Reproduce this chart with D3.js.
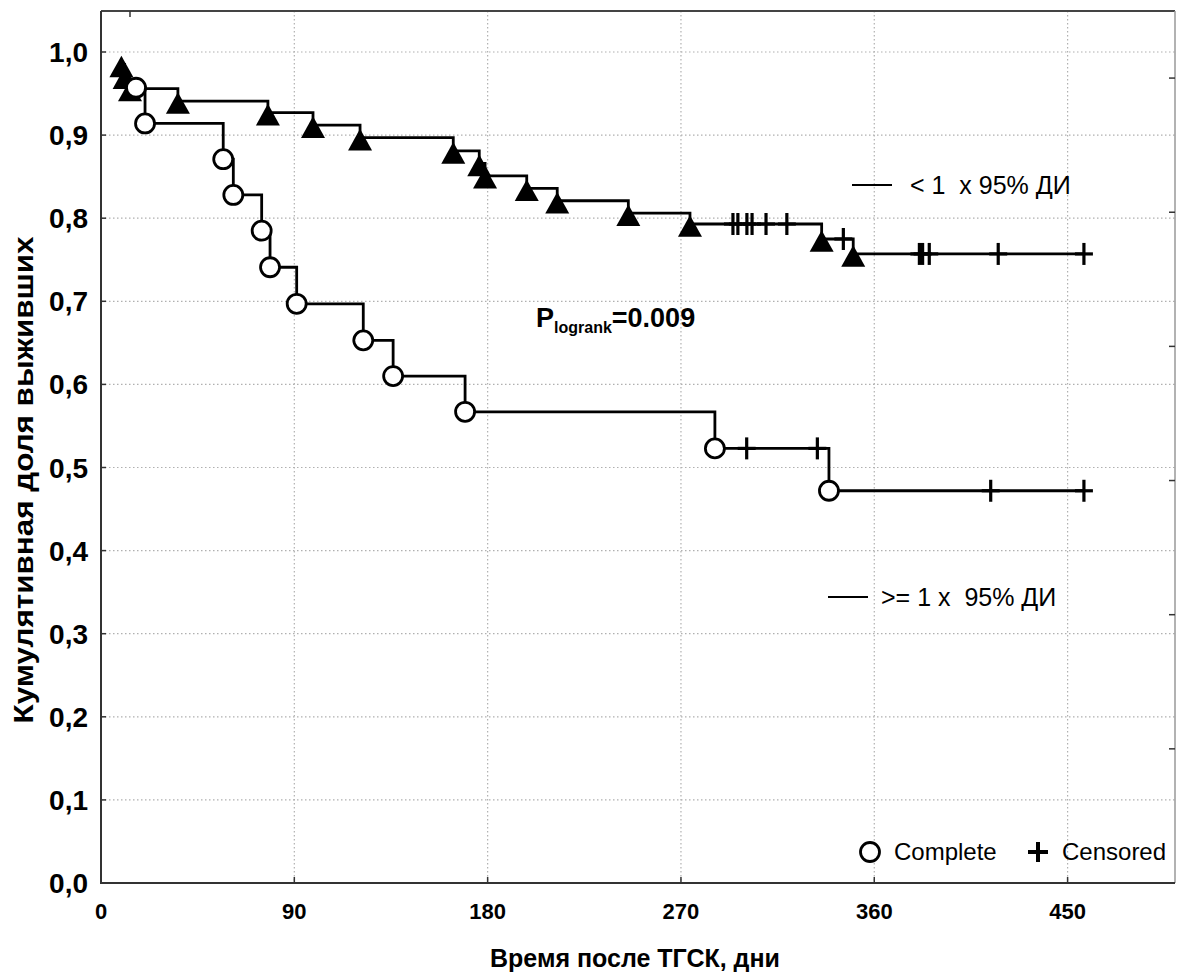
<!DOCTYPE html>
<html lang="ru">
<head>
<meta charset="UTF-8">
<title>Кумулятивная доля выживших</title>
<script src="https://d3js.org/d3.v7.min.js"></script>
<style>
body { margin: 0; background: #fff; }
text { font-family: "Liberation Sans", Arial, sans-serif; fill: #000; }
</style>
</head>
<body>
<div id="chart"></div>
<script>
// group "< 1 x 95% ДИ" (filled triangles at events)
const lowTimes = [9.5, 11, 13.5, 35.8, 77.7, 98.7, 120.6, 164, 176.1, 178.8, 198.2, 212.4, 245.5, 274.2, 335.5, 350.2];
const lowSurv = [0.985, 0.971, 0.956, 0.941, 0.927, 0.912, 0.897, 0.881, 0.866, 0.851, 0.836, 0.821, 0.806, 0.793, 0.775, 0.757];
const lowCensTimes = [294.2, 296.5, 300.7, 303.1, 309.6, 319.3, 345.6, 381, 382.5, 385.6, 417.7, 457.6];
const lowCensSurv = [0.793, 0.793, 0.793, 0.793, 0.793, 0.793, 0.775, 0.757, 0.757, 0.757, 0.757, 0.757];

// group ">= 1 x 95% ДИ" (open circles at events)
const highTimes = [16.3, 20.5, 56.9, 61.6, 74.8, 78.7, 91.1, 122.1, 136, 169.5, 285.8, 338.9];
const highSurv = [0.957, 0.914, 0.871, 0.828, 0.785, 0.741, 0.697, 0.653, 0.610, 0.567, 0.523, 0.472];
const highCensTimes = [300.6, 333.5, 414.2, 457.6];
const highCensSurv = [0.523, 0.523, 0.472, 0.472];

const xTicks = [0, 90, 180, 270, 360, 450];
const yTicks = [0, 0.1, 0.2, 0.3, 0.4, 0.5, 0.6, 0.7, 0.8, 0.9, 1.0];
const rightTicks = [1, 2, 3, 4, 5, 6];
const topTicks = [13.5];

const width = 1177, height = 978;
const plotL = 101, plotR = 1175, plotT = 11, plotB = 883;

const svg = d3.select("#chart").append("svg")
    .attr("width", width)
    .attr("height", height);

const x = d3.scaleLinear().domain([0, 500]).range([plotL, plotR]);
const y = d3.scaleLinear().domain([0, 1]).range([plotB, 52]);
const yRight = d3.scaleLinear().domain([0, 6.5]).range([plotB, plotT]);

// dotted grid
const grid = svg.append("g")
    .attr("stroke", "#b0b0b0")
    .attr("stroke-width", 1.2)
    .attr("stroke-dasharray", "1.5,2.5");
grid.selectAll("line.h")
    .data(yTicks.filter(d => d > 0))
    .join("line")
    .attr("class", "h")
    .attr("x1", plotL).attr("x2", plotR)
    .attr("y1", d => y(d)).attr("y2", d => y(d));
grid.selectAll("line.v")
    .data(xTicks.filter(d => d > 0))
    .join("line")
    .attr("class", "v")
    .attr("x1", d => x(d)).attr("x2", d => x(d))
    .attr("y1", plotT).attr("y2", plotB);

// frame
svg.append("line").attr("x1", plotL).attr("x2", plotR).attr("y1", plotT).attr("y2", plotT)
    .attr("stroke", "#444").attr("stroke-width", 2);
svg.append("line").attr("x1", plotR).attr("x2", plotR).attr("y1", plotT).attr("y2", plotB)
    .attr("stroke", "#999").attr("stroke-width", 1.5);
svg.append("line").attr("x1", plotL).attr("x2", plotL).attr("y1", plotT).attr("y2", plotB)
    .attr("stroke", "#333").attr("stroke-width", 2);
svg.append("line").attr("x1", plotL - 1).attr("x2", plotR).attr("y1", plotB).attr("y2", plotB)
    .attr("stroke", "#333").attr("stroke-width", 2);

// inner ticks
svg.append("g").attr("stroke", "#333").attr("stroke-width", 1.5)
    .selectAll("line")
    .data(xTicks.filter(d => d > 0))
    .join("line")
    .attr("x1", d => x(d)).attr("x2", d => x(d))
    .attr("y1", plotB).attr("y2", plotB - 6);
svg.append("g").attr("stroke", "#333").attr("stroke-width", 1.5)
    .selectAll("line")
    .data(topTicks)
    .join("line")
    .attr("x1", d => x(d)).attr("x2", d => x(d))
    .attr("y1", plotT).attr("y2", plotT + 6);
svg.append("g").attr("stroke", "#333").attr("stroke-width", 1.5)
    .selectAll("line")
    .data(yTicks.filter(d => d > 0))
    .join("line")
    .attr("x1", plotL).attr("x2", plotL + 5)
    .attr("y1", d => y(d)).attr("y2", d => y(d));
svg.append("g").attr("stroke", "#333").attr("stroke-width", 1.5)
    .selectAll("line")
    .data(rightTicks)
    .join("line")
    .attr("x1", plotR).attr("x2", plotR - 6)
    .attr("y1", d => yRight(d)).attr("y2", d => yRight(d));

// tick labels
svg.append("g")
    .selectAll("text")
    .data(yTicks)
    .join("text")
    .attr("x", 88)
    .attr("y", d => y(d) + 10)
    .attr("text-anchor", "end")
    .attr("font-size", 28)
    .attr("font-weight", "bold")
    .text(d => d3.format(".1f")(d).replace(".", ","));
svg.append("g")
    .selectAll("text")
    .data(xTicks)
    .join("text")
    .attr("x", d => x(d))
    .attr("y", 919)
    .attr("text-anchor", "middle")
    .attr("font-size", 22)
    .attr("font-weight", "bold")
    .text(d => d);

// axis titles
svg.append("text")
    .attr("x", 635)
    .attr("y", 967)
    .attr("text-anchor", "middle")
    .attr("font-size", 25)
    .attr("font-weight", "bold")
    .text("Время после ТГСК, дни");
svg.append("text")
    .attr("transform", "translate(33," + y(0.485) + ") rotate(-90)")
    .attr("text-anchor", "middle")
    .attr("font-size", 28)
    .attr("font-weight", "bold")
    .attr("textLength", 487)
    .attr("lengthAdjust", "spacingAndGlyphs")
    .text("Кумулятивная доля выживших");

// survival curves
const stepLine = d3.line()
    .x(d => x(d.t))
    .y(d => y(d.s))
    .curve(d3.curveStepAfter);

function curvePoints(times, surv, cTimes, cSurv) {
    const pts = times.map((t, i) => ({t: t, s: surv[i]}))
        .concat(cTimes.map((t, i) => ({t: t, s: cSurv[i]})));
    return pts.sort((a, b) => a.t - b.t);
}

const lowPts = curvePoints(lowTimes, lowSurv, lowCensTimes, lowCensSurv);
const highPts = curvePoints(highTimes, highSurv, highCensTimes, highCensSurv);

svg.append("path")
    .datum(highPts)
    .attr("d", stepLine)
    .attr("fill", "none")
    .attr("stroke", "#000")
    .attr("stroke-width", 2.8);
svg.append("path")
    .datum(lowPts)
    .attr("d", stepLine)
    .attr("fill", "none")
    .attr("stroke", "#000")
    .attr("stroke-width", 2.8);

// triangle centred on its bounding box
const boxTriangle = {
    draw(ctx, size) {
        const w = Math.sqrt(size);
        const h = w * 0.9;
        ctx.moveTo(0, -h / 2);
        ctx.lineTo(w / 2, h / 2);
        ctx.lineTo(-w / 2, h / 2);
        ctx.closePath();
    }
};

// censored crosses
const censG = svg.append("g").attr("stroke", "#000").attr("stroke-width", 3.2);
const censData = lowCensTimes.map((t, i) => ({t: t, s: lowCensSurv[i]}))
    .concat(highCensTimes.map((t, i) => ({t: t, s: highCensSurv[i]})));
censG.selectAll("line.v")
    .data(censData)
    .join("line")
    .attr("class", "v")
    .attr("x1", d => x(d.t)).attr("x2", d => x(d.t))
    .attr("y1", d => y(d.s) - 11).attr("y2", d => y(d.s) + 11);
censG.selectAll("line.h")
    .data(censData)
    .join("line")
    .attr("class", "h")
    .attr("x1", d => x(d.t) - 9).attr("x2", d => x(d.t) + 9)
    .attr("y1", d => y(d.s)).attr("y2", d => y(d.s));

svg.append("g")
    .selectAll("path")
    .data(lowTimes.map((t, i) => ({t: t, s: lowSurv[i]})))
    .join("path")
    .attr("transform", d => "translate(" + x(d.t) + "," + (y(d.s) + 2) + ")")
    .attr("d", d3.symbol().type(boxTriangle).size(24 * 24))
    .attr("fill", "#000");

svg.append("g")
    .selectAll("circle")
    .data(highTimes.map((t, i) => ({t: t, s: highSurv[i]})))
    .join("circle")
    .attr("cx", d => x(d.t))
    .attr("cy", d => y(d.s))
    .attr("r", 9.5)
    .attr("fill", "#fff")
    .attr("stroke", "#000")
    .attr("stroke-width", 2.8);

// group labels
function groupLabel(x0, tx, yy, label) {
    svg.append("line")
        .attr("x1", x0).attr("x2", x0 + 40)
        .attr("y1", yy).attr("y2", yy)
        .attr("stroke", "#000").attr("stroke-width", 2);
    svg.append("text")
        .attr("x", tx)
        .attr("y", yy + 9)
        .attr("font-size", 25)
        .style("white-space", "pre")
        .text(label);
}
groupLabel(852, 910, 185, "< 1  x 95% ДИ");
groupLabel(828, 881, 597, ">= 1 x  95% ДИ");

// log-rank p value
const p = svg.append("text")
    .attr("x", 536)
    .attr("y", 327)
    .attr("font-size", 27)
    .attr("font-weight", "bold");
p.append("tspan").text("P");
p.append("tspan").attr("font-size", 16).attr("dy", 6).text("logrank");
p.append("tspan").attr("dy", -6).text("=0.009");

// marker legend
svg.append("circle")
    .attr("cx", 870).attr("cy", 852).attr("r", 9.5)
    .attr("fill", "#fff").attr("stroke", "#000").attr("stroke-width", 2.8);
svg.append("text").attr("x", 894).attr("y", 860).attr("font-size", 24).text("Complete");
svg.append("g").attr("stroke", "#000").attr("stroke-width", 4)
    .selectAll("line")
    .data([[1028, 852, 1048, 852], [1038, 842, 1038, 862]])
    .join("line")
    .attr("x1", d => d[0]).attr("y1", d => d[1])
    .attr("x2", d => d[2]).attr("y2", d => d[3]);
svg.append("text").attr("x", 1062).attr("y", 860).attr("font-size", 24).text("Censored");
</script>
</body>
</html>
